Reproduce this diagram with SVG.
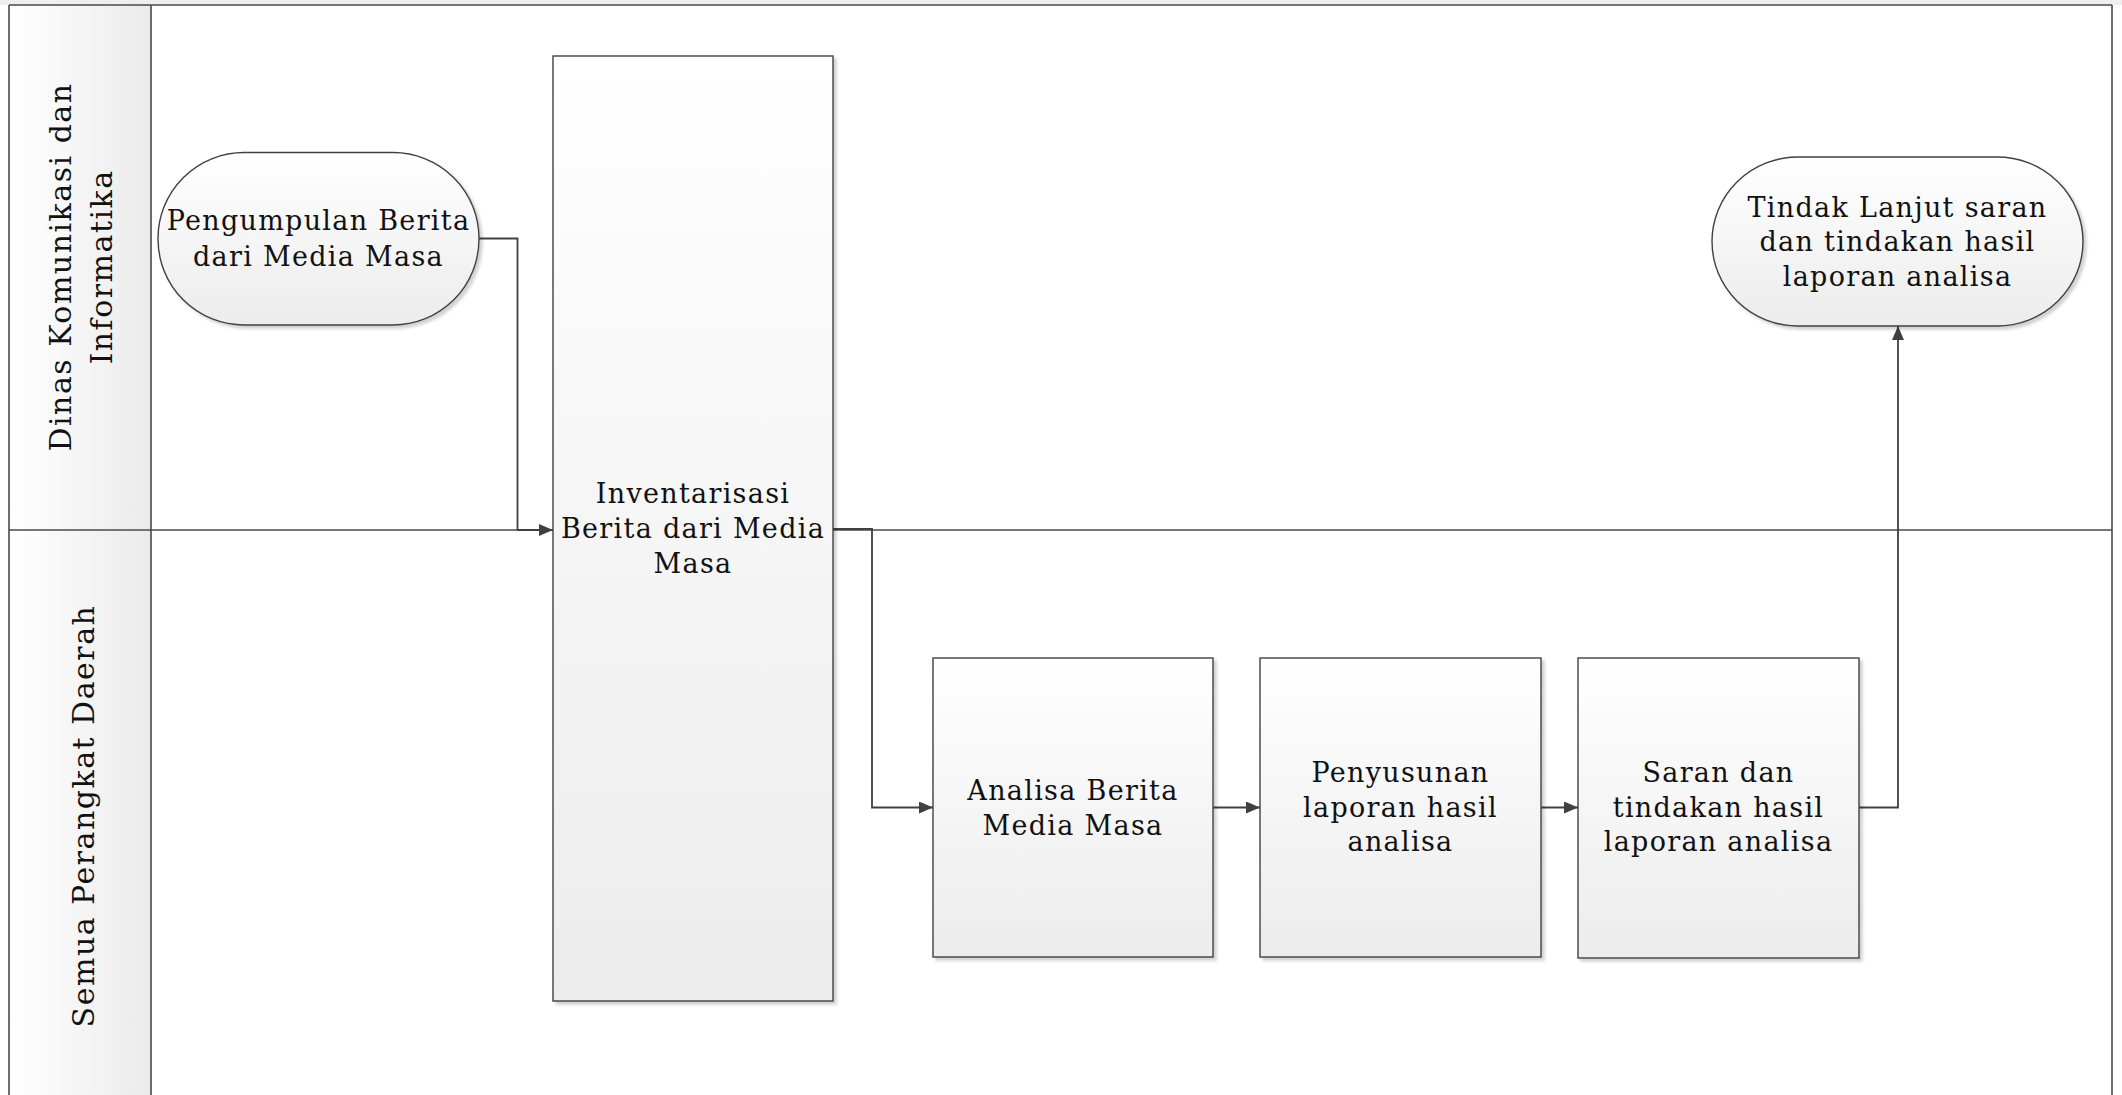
<svg xmlns="http://www.w3.org/2000/svg" width="2122" height="1095" viewBox="0 0 2122 1095">
<defs>
<linearGradient id="nodeFill" x1="0" y1="0" x2="0" y2="1">
<stop offset="0" stop-color="#ffffff"/>
<stop offset="1" stop-color="#ececec"/>
</linearGradient>
<linearGradient id="hdrFill" x1="0" y1="0" x2="1" y2="0">
<stop offset="0" stop-color="#ffffff"/>
<stop offset="1" stop-color="#ebebeb"/>
</linearGradient>
<filter id="shadow" x="-5%" y="-5%" width="115%" height="115%">
<feDropShadow dx="3" dy="3" stdDeviation="1.5" flood-color="#000" flood-opacity="0.18"/>
</filter>
<marker id="arrow" viewBox="0 0 14 12" refX="14" refY="6" markerWidth="14" markerHeight="12" markerUnits="userSpaceOnUse" orient="auto">
<path d="M0,0 L14,6 L0,12 Z" fill="#404040"/>
</marker>
</defs>
<style>
.node{fill:url(#nodeFill);stroke:#404040;stroke-width:1.4;filter:url(#shadow)}
.lane{fill:none;stroke:#4a4a4a;stroke-width:1.6}
.conn{fill:none;stroke:#404040;stroke-width:1.8;marker-end:url(#arrow)}
.t{font-family:"DejaVu Serif","Liberation Serif",serif;font-size:27px;letter-spacing:1.3px;fill:#111;text-anchor:middle}
.h{font-family:"DejaVu Serif","Liberation Serif",serif;font-size:30px;letter-spacing:1.5px;fill:#111;text-anchor:middle}
</style>
<rect x="0" y="0" width="2122" height="1095" fill="#ffffff"/>
<g id="pool">
<rect x="0" y="0" width="2122" height="5" fill="#efefef"/>
<rect x="9" y="5" width="142" height="1095" fill="url(#hdrFill)"/>
<line class="lane" x1="9" y1="5" x2="2112" y2="5"/>
<line class="lane" x1="9" y1="5" x2="9" y2="1095"/>
<line class="lane" x1="2112" y1="5" x2="2112" y2="1095"/>
<line class="lane" x1="151" y1="5" x2="151" y2="1095"/>
<line class="lane" x1="9" y1="530" x2="2112" y2="530"/>
</g>
<g id="lane-dinas">
<text class="h" transform="translate(71,267) rotate(-90)" x="0" y="0">Dinas Komunikasi dan</text>
<text class="h" transform="translate(112,267) rotate(-90)" x="0" y="0">Informatika</text>
</g>
<g id="lane-semua">
<text class="h" transform="translate(94,816) rotate(-90)" x="0" y="0">Semua Perangkat Daerah</text>
</g>
<g id="connectors">
<path class="conn" d="M479,238.5 H517.5 V530 H553"/>
<path class="conn" d="M833,529 H872 V807.5 H933"/>
<path class="conn" d="M1213,807.5 H1260"/>
<path class="conn" d="M1541,807.5 H1578"/>
<path class="conn" d="M1859,807.5 H1898 V326"/>
</g>
<g id="node-pengumpulan">
<rect class="node" x="158" y="152.5" width="321" height="172.5" rx="86" ry="86"/>
<text class="t" x="318.5" y="230">Pengumpulan Berita</text>
<text class="t" x="318.5" y="266">dari Media Masa</text>
</g>
<g id="node-inventarisasi">
<rect class="node" x="553" y="56" width="280" height="945"/>
<text class="t" x="693" y="503">Inventarisasi</text>
<text class="t" x="693" y="538">Berita dari Media</text>
<text class="t" x="693" y="573">Masa</text>
</g>
<g id="node-analisa">
<rect class="node" x="933" y="658" width="280" height="299"/>
<text class="t" x="1073" y="800">Analisa Berita</text>
<text class="t" x="1073" y="835">Media Masa</text>
</g>
<g id="node-penyusunan">
<rect class="node" x="1260" y="658" width="281" height="299"/>
<text class="t" x="1400.5" y="782">Penyusunan</text>
<text class="t" x="1400.5" y="817">laporan hasil</text>
<text class="t" x="1400.5" y="851">analisa</text>
</g>
<g id="node-saran">
<rect class="node" x="1578" y="658" width="281" height="300"/>
<text class="t" x="1718.5" y="782">Saran dan</text>
<text class="t" x="1718.5" y="817">tindakan hasil</text>
<text class="t" x="1718.5" y="851">laporan analisa</text>
</g>
<g id="node-tindaklanjut">
<rect class="node" x="1712" y="157" width="371" height="169" rx="86" ry="84.5"/>
<text class="t" x="1897.5" y="217">Tindak Lanjut saran</text>
<text class="t" x="1897.5" y="251">dan tindakan hasil</text>
<text class="t" x="1897.5" y="286">laporan analisa</text>
</g>
</svg>
